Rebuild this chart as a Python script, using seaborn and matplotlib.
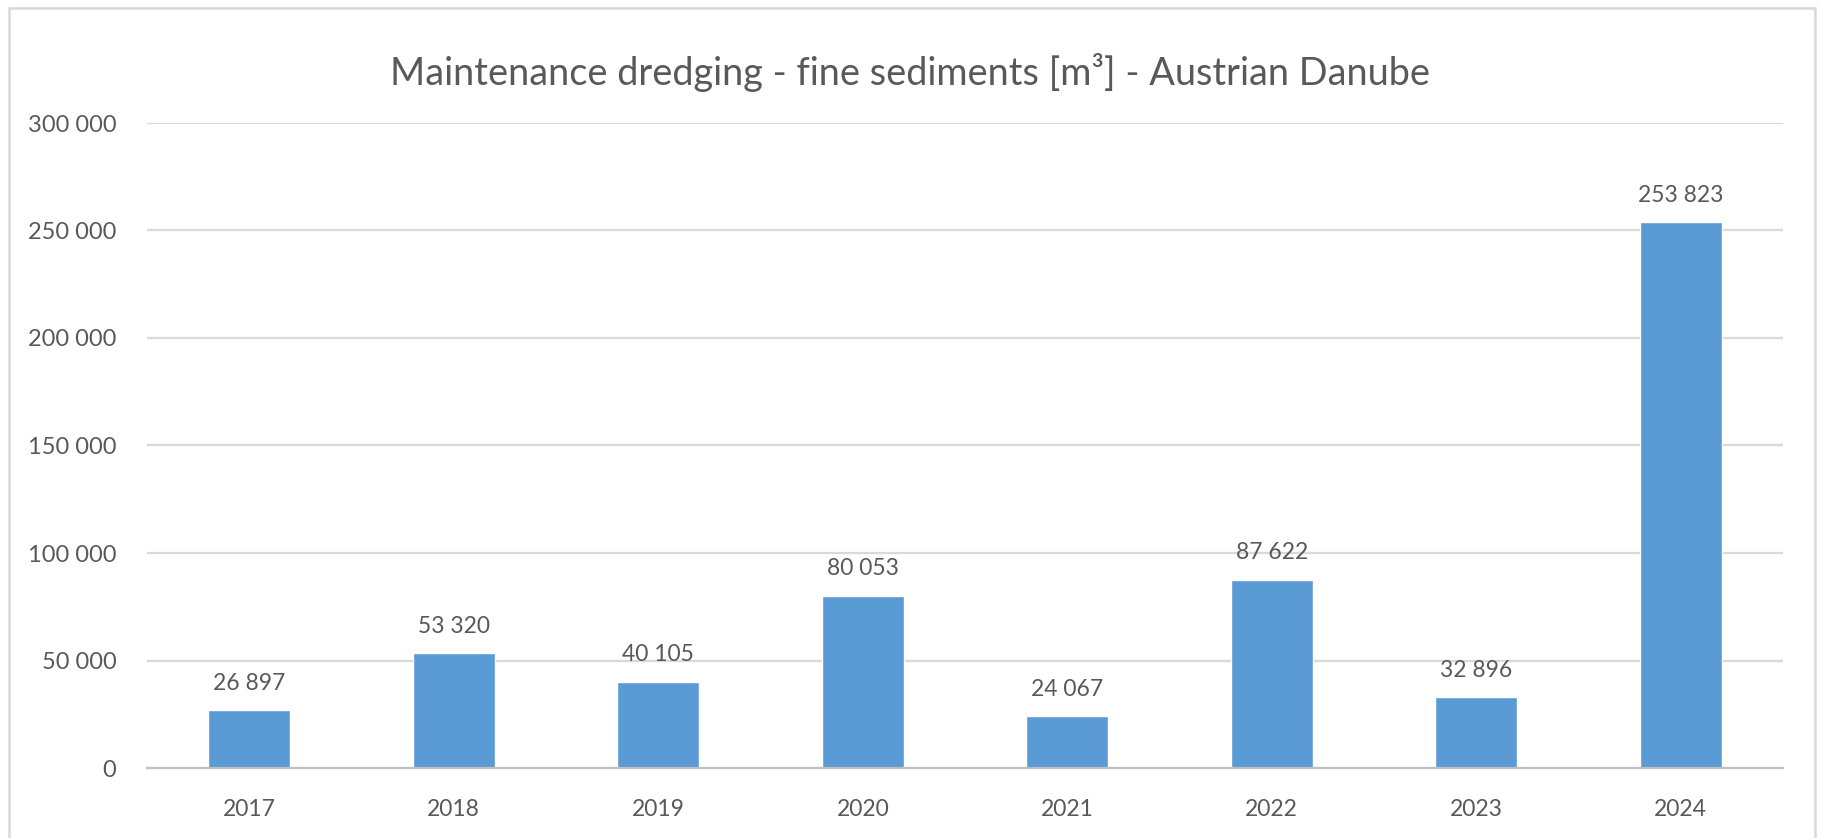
import matplotlib
matplotlib.use("Agg")
import matplotlib.pyplot as plt
import seaborn as sns
import pandas as pd
from matplotlib.patches import Rectangle
from matplotlib.ticker import FuncFormatter

# data
years = ["2017", "2018", "2019", "2020", "2021", "2022", "2023", "2024"]
volumes = [26897, 53320, 40105, 80053, 24067, 87622, 32896, 253823]
y_ticks = [0, 50000, 100000, 150000, 200000, 250000, 300000]

TEXT = "#595959"
BAR = "#5B9BD5"
GRID = "#D9D9D9"

def fmt(v):
    return f"{int(v):,}".replace(",", " ")

sns.set_theme(style="white")
plt.rcParams["font.family"] = ["Lato", "DejaVu Sans"]

df = pd.DataFrame({"Year": years, "Volume": volumes})

fig = plt.figure(figsize=(18.21, 8.38), dpi=100)
ax = fig.add_axes([147 / 1821, 1 - 768 / 838, (1783 - 147) / 1821, (768 - 123) / 838])

sns.barplot(data=df, x="Year", y="Volume", color=BAR, width=0.40,
            saturation=1, ax=ax, zorder=3)

ax.set_xlim(-0.5, len(years) - 0.5)
ax.set_ylim(0, 300000)
ax.set_yticks(y_ticks)
ax.yaxis.set_major_formatter(FuncFormatter(lambda v, p: fmt(v)))
for t in y_ticks[1:]:
    ax.axhline(t, color=GRID, lw=1.6, zorder=1)

ax.set_xlabel("")
ax.set_ylabel("")
for s in ["top", "right", "left"]:
    ax.spines[s].set_visible(False)
ax.spines["bottom"].set_color("#BFBFBF")
ax.spines["bottom"].set_linewidth(1.6)
ax.spines["bottom"].set_zorder(4)

ax.tick_params(axis="y", length=0, pad=22, labelsize=17, labelcolor=TEXT)
ax.tick_params(axis="x", which="major", length=0, pad=22, labelsize=16.5, labelcolor=TEXT)
ax.set_xticks([i - 0.5 for i in range(len(years) + 1)], minor=True)
ax.tick_params(axis="x", which="minor", length=7, width=1.6, color="#BFBFBF", direction="out")

ax.bar_label(ax.containers[0], labels=[fmt(v) for v in volumes], padding=12,
             fontsize=16.5, color=TEXT)

fig.text(0.5, 1 - 72 / 838, "Maintenance dredging - fine sediments [m³] - Austrian Danube",
         ha="center", va="center", fontsize=27.3, color=TEXT)

# chart area frame
fig.patches.append(Rectangle((9 / 1821, -0.02), (1815 - 9) / 1821, 1.02 - 8 / 838,
                             transform=fig.transFigure, fill=False,
                             edgecolor=GRID, lw=1.8))

fig.savefig("out.png", dpi=100, facecolor="white")
